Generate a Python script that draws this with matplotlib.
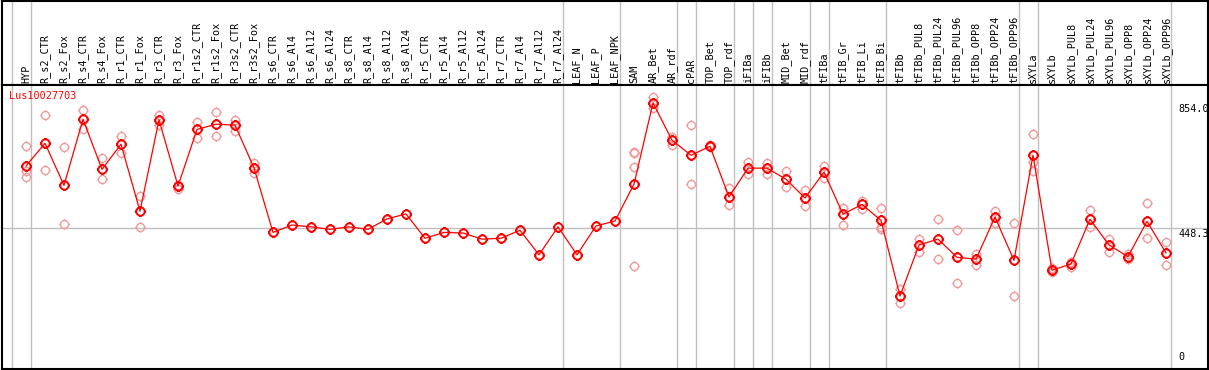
import numpy as np
import matplotlib
matplotlib.use('Agg')
from matplotlib import pyplot as plt
from matplotlib.path import Path
from matplotlib import transforms

samples = [
    'HYP', 'R_s2_CTR', 'R_s2_Fox', 'R_s4_CTR', 'R_s4_Fox', 'R_r1_CTR',
    'R_r1_Fox', 'R_r3_CTR', 'R_r3_Fox', 'R_r1s2_CTR', 'R_r1s2_Fox',
    'R_r3s2_CTR', 'R_r3s2_Fox', 'R_s6_CTR', 'R_s6_Al4', 'R_s6_Al12',
    'R_s6_Al24', 'R_s8_CTR', 'R_s8_Al4', 'R_s8_Al12', 'R_s8_Al24',
    'R_r5_CTR', 'R_r5_Al4', 'R_r5_Al12', 'R_r5_Al24', 'R_r7_CTR', 'R_r7_Al4',
    'R_r7_Al12', 'R_r7_Al24', 'LEAF_N', 'LEAF_P', 'LEAF_NPK', 'SAM', 'AR_Bet',
    'AR_rdf', 'cPAR', 'TOP_Bet', 'TOP_rdf', 'iFIBa', 'iFIBb', 'MID_Bet',
    'MID_rdf', 'tFIBa', 'tFIB_Gr', 'tFIB_Li', 'tFIB_Bi', 'tFIBb',
    'tFIBb_PUL8', 'tFIBb_PUL24', 'tFIBb_PUL96', 'tFIBb_OPP8', 'tFIBb_OPP24',
    'tFIBb_OPP96', 'sXYLa', 'sXYLb', 'sXYLb_PUL8', 'sXYLb_PUL24',
    'sXYLb_PUL96', 'sXYLb_OPP8', 'sXYLb_OPP24', 'sXYLb_OPP96',
]

means = [
    649, 723, 586, 801, 638, 720, 502, 799, 584, 768, 785, 782, 643,
    433, 457, 451, 443, 451, 443, 477, 493, 414, 433, 431, 411, 414, 440,
    360, 451, 360, 454, 470, 590, 854, 733, 684, 713, 548, 642, 642, 606,
    545, 629, 492, 524, 472, 226, 392, 411, 352, 346, 483, 342, 684, 310,
    330, 476, 392, 354, 469, 366,
]

replicates = [
    [714, 633, 613], [815, 636], [710, 459], [831, 770], [674, 606],
    [747, 692], [551, 451], [815, 783], [587, 574], [793, 739], [826, 746],
    [799, 762], [658, 627],
    [], [], [], [], [], [], [], [], [], [], [], [], [], [], [], [], [], [], [],
    [695, 690, 645, 324], [873, 837], [744, 718], [782, 590], [716, 712],
    [576, 521], [662, 622], [660, 622], [633, 582], [571, 518], [649, 610],
    [511, 456], [536, 510], [511, 452, 445], [204, 248], [411, 370],
    [476, 346], [440, 267], [363, 327], [503, 463], [463, 226],
    [752, 663, 633], [316, 305], [338, 320], [505, 451], [411, 368],
    [363, 347], [528, 414], [401, 326],
]

# group separators (drawn after these sample indices)
breaks = [-1, 0, 28, 31, 34, 35, 37, 38, 39, 41, 42, 45, 52, 53, 60]

grid_value = 448.3
scale_labels = ['854.0', '448.3', '0']
scale_values = [854.0, 448.3, 0]
gene = 'Lus10027703'

# circle with four little ticks
t = np.linspace(0, 2 * np.pi, 33)
verts = [(np.cos(a), np.sin(a)) for a in t]
codes = [Path.MOVETO] + [Path.LINETO] * 32
for dx, dy in [(0, 1), (0, -1), (1, 0), (-1, 0)]:
    verts += [(dx, dy), (dx * 1.3, dy * 1.3)]
    codes += [Path.MOVETO, Path.LINETO]
tick_marker = Path(verts, codes)

W, H = 1209, 370
fig = plt.figure(figsize=(W / 100, H / 100), dpi=100)
plt.rcParams['font.family'] = 'DejaVu Sans Mono'

x = np.arange(len(samples))
xl = ((1.5 - 26) / 19, (1208 - 26) / 19)

top = fig.add_axes([1.5 / W, 1 - 85 / H, 1206.5 / W, 85 / H - 0.5 / H])
ax = fig.add_axes([1.5 / W, 1 / H, 1206.5 / W, 284 / H])

for a in (top, ax):
    a.set_xlim(*xl)
    a.set_xticks([])
    a.set_yticks([])
    for s in a.spines.values():
        s.set_color('black')
        s.set_linewidth(1.5)
    for b in breaks:
        a.axvline(b + 0.24, color='#c0c0c0', lw=1, zorder=0)

top.set_ylim(0, 1)
for i, name in enumerate(samples):
    top.text(i, 0.025, name, rotation=90, ha='center', va='bottom',
             fontsize=7.3, color='black')

ax.set_ylim(-11.4, 912.5)
ax.axhline(grid_value, color='#c0c0c0', lw=1, zorder=0)

rx, ry = [], []
for i, reps in enumerate(replicates):
    for v in reps:
        rx.append(i)
        ry.append(v)
ax.plot(rx, ry, ls='none', marker=tick_marker, ms=7.5, mfc='none',
        mec='#f09a9a', mew=1, zorder=2)
ax.plot(x, means, color='#ff0000', lw=0.9, marker=tick_marker, ms=7.8,
        mfc='none', mec='#ff0000', mew=1.4, zorder=3)

trans = transforms.blended_transform_factory(ax.transAxes, ax.transData)
for lab, v in zip(scale_labels, scale_values):
    if v == 0:
        ax.annotate(lab, (0.9752, v), xycoords=trans, xytext=(0, 3),
                    textcoords='offset pixels', ha='left', va='bottom',
                    fontsize=7.3, annotation_clip=False)
    else:
        ax.annotate(lab, (0.9752, v), xycoords=trans, xytext=(0, -1),
                    textcoords='offset pixels', ha='left', va='top',
                    fontsize=7.3, annotation_clip=False)

ax.text(0.0066, 0.98, gene, transform=ax.transAxes, ha='left', va='top',
        color='#ff0000', fontsize=7.3)

fig.savefig('out.png', dpi=100)
